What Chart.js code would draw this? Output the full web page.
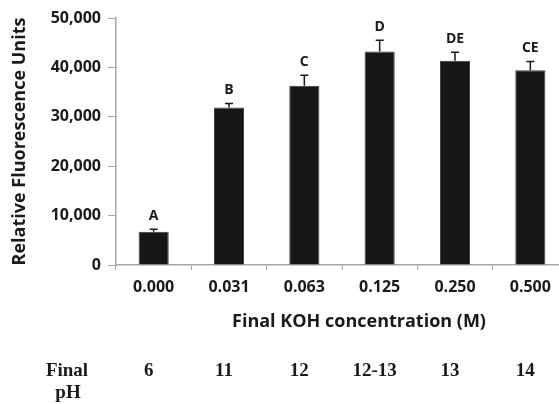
<!DOCTYPE html>
<html>
<head>
<meta charset="utf-8">
<script src="https://cdn.jsdelivr.net/npm/chart.js@4"></script>
<style>
  html, body { margin: 0; padding: 0; background: #fff; overflow: hidden; }
  #wrap { width: 570px; height: 404px; }
</style>
</head>
<body>
<div id="wrap"><canvas id="kohChart" width="570" height="404"></canvas></div>
<script>
// données
const concentrations = ['0.000', '0.031', '0.063', '0.125', '0.250', '0.500'];
const rfu = [6750, 31900, 36300, 43200, 41350, 39400];
const rfuErr = [500, 800, 2100, 2300, 1700, 1800];
const letters = ['A', 'B', 'C', 'D', 'DE', 'CE'];
const finalPH = ['6', '11', '12', '12-13', '13', '14'];
const yTicks = [0, 10000, 20000, 30000, 40000, 50000];

const sans = "'Open Sans', sans-serif";
const serif = "'Liberation Serif', 'Times New Roman', serif";
const axisGray = '#a6a6a6';

// barres d'erreur + lettres + ligne du pH
const extras = {
    id: 'extras',
    afterDatasetsDraw(chart) {
        const ctx = chart.ctx;
        const x = chart.scales.x, y = chart.scales.y;
        ctx.save();
        ctx.strokeStyle = '#1a1a1a';
        ctx.lineWidth = 1.5;
        rfu.forEach((v, i) => {
            const px = x.getPixelForValue(i);
            const top = y.getPixelForValue(v + rfuErr[i]);
            const base = y.getPixelForValue(v);
            ctx.beginPath();
            ctx.moveTo(px, base);
            ctx.lineTo(px, top);
            ctx.moveTo(px - 4, top);
            ctx.lineTo(px + 4, top);
            ctx.stroke();
            ctx.fillStyle = '#1a1a1a';
            ctx.font = 'bold 14px ' + sans;
            ctx.textAlign = 'center';
            ctx.textBaseline = 'alphabetic';
            ctx.fillText(letters[i], px, top - 9);
        });
        ctx.restore();
    },
    afterDraw(chart) {
        const ctx = chart.ctx;
        const x = chart.scales.x;
        const area = chart.chartArea;
        ctx.save();
        ctx.fillStyle = '#1a1a1a';
        ctx.textAlign = 'center';
        ctx.textBaseline = 'alphabetic';
        ctx.font = 'bold 18px ' + sans;
        ctx.fillText('Final KOH concentration (M)', (area.left + area.right) / 2 + 17, area.bottom + 62);
        ctx.font = 'bold 19px ' + serif;
        ctx.fillText('Final', 67, area.bottom + 111);
        ctx.fillText('pH', 68, area.bottom + 133);
        finalPH.forEach((p, i) => {
            ctx.fillText(p, x.getPixelForValue(i) - 5, area.bottom + 111);
        });
        ctx.restore();
    }
};

new Chart(document.getElementById('kohChart'), {
    type: 'bar',
    data: {
        labels: concentrations,
        datasets: [{
            data: rfu,
            backgroundColor: '#161616',
            borderColor: '#3a3a3a',
            borderWidth: 1,
            barPercentage: 0.4,
            categoryPercentage: 1.0
        }]
    },
    options: {
        responsive: false,
        animation: false,
        layout: { padding: { top: 18, right: 2, left: 0, bottom: 0 } },
        plugins: { legend: { display: false }, tooltip: { enabled: false } },
        scales: {
            x: {
                grid: { drawOnChartArea: false, tickLength: 5, color: axisGray },
                border: { color: axisGray, width: 1.5 },
                ticks: { color: '#1a1a1a', font: { family: sans, size: 16, weight: 'bold' }, padding: 8, maxRotation: 0 },
                afterFit(scale) { scale.height = 139; }
            },
            y: {
                min: 0,
                max: 50000,
                afterBuildTicks(scale) { scale.ticks = yTicks.map(v => ({ value: v })); },
                grid: { drawOnChartArea: false, tickLength: 8, color: axisGray },
                border: { color: axisGray, width: 1.5 },
                ticks: {
                    color: '#1a1a1a',
                    font: { family: sans, size: 16, weight: 'bold' },
                    padding: 7,
                    callback: v => v.toLocaleString('en-US')
                },
                title: {
                    display: true,
                    text: 'Relative Fluorescence Units',
                    color: '#1a1a1a',
                    font: { family: sans, size: 18, weight: 'bold' },
                    padding: { top: 9, bottom: 0 }
                },
                afterFit(scale) { scale.width = 116; }
            }
        }
    },
    plugins: [extras]
});
</script>
</body>
</html>
